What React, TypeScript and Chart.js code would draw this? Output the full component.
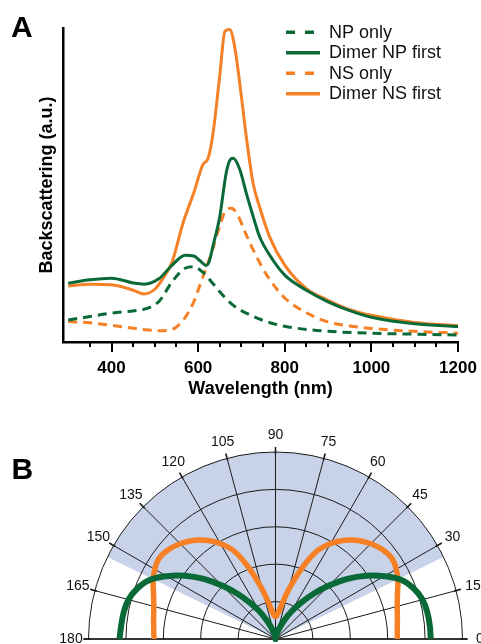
import React, { useEffect, useRef } from 'react';
import { Chart, registerables } from 'chart.js';

Chart.register(...registerables);

const FONT = '"Liberation Sans", Arial, Helvetica, sans-serif';
const GREEN = '#0a6a37';
const ORANGE = '#f58025';
const SHADE = '#c8d3e9';
const INK = '#111111';

// ---------- Panel A: backscattering spectra ----------
const seriesLabels = ['NP only', 'Dimer NP first', 'NS only', 'Dimer NS first'];

const npOnlyWl = [300, 350, 400, 450, 480, 510, 540, 570, 590, 610, 630, 650, 680, 720, 760, 800, 850, 900, 1000, 1100, 1200];
const npOnlyVal = [7.0, 8.1, 9.2, 9.9, 10.6, 13.0, 19.2, 23.5, 24.0, 22.3, 19.3, 16.0, 11.8, 8.6, 6.4, 5.0, 4.0, 3.4, 2.8, 2.5, 2.2];

const dimerNpWl = [300, 350, 400, 450, 475, 510, 540, 570, 590, 605, 618, 625, 635, 650, 665, 675, 681, 696, 712, 727, 742, 765, 800, 850, 900, 950, 1000, 1100, 1200];
const dimerNpVal = [18.7, 19.8, 20.3, 18.8, 18.4, 20.2, 24.5, 27.6, 27.4, 25.8, 24.4, 25.4, 31.0, 40.0, 54.0, 58.2, 58.5, 55.0, 47.0, 40.0, 33.5, 27.7, 21.3, 16.5, 12.8, 10.0, 7.9, 5.8, 4.9];

const nsOnlyWl = [300, 350, 400, 450, 480, 510, 530, 550, 570, 590, 610, 630, 650, 662, 677, 690, 710, 730, 760, 800, 850, 900, 950, 1000, 1100, 1200];
const nsOnlyVal = [6.5, 6.1, 5.3, 4.4, 3.9, 3.6, 3.7, 4.8, 7.8, 12.8, 20.4, 28.0, 37.0, 41.5, 42.6, 40.8, 34.5, 28.5, 21.0, 14.0, 9.3, 6.4, 5.1, 4.3, 3.4, 2.8];

const dimerNsWl = [300, 350, 400, 450, 475, 500, 520, 540, 565, 590, 611, 623, 635, 650, 662, 673, 685, 700, 712, 727, 742, 765, 800, 850, 900, 950, 1000, 1100, 1200];
const dimerNsVal = [17.8, 18.4, 18.2, 16.5, 15.3, 16.8, 20.5, 25.5, 37.8, 47.5, 56.5, 58.5, 67.0, 85.0, 99.0, 99.5, 93.5, 78.0, 64.5, 50.5, 43.0, 33.5, 24.5, 17.0, 13.3, 10.3, 8.5, 6.2, 5.2];

const xMajorTicks = [400, 600, 800, 1000, 1200];
const xTitle = 'Wavelength (nm)';
const yTitle = 'Backscattering (a.u.)';

// ---------- Panel B: angular distribution (polar) ----------
const polarAngles = [0, 5, 10, 15, 20, 25, 30, 35, 40, 45, 50, 55, 60, 65, 70, 75, 80, 85, 90,
  95, 100, 105, 110, 115, 120, 125, 130, 135, 140, 145, 150, 155, 160, 165, 170, 175, 180];
const dimerNpR = [4.14, 4.13, 4.11, 4.06, 3.93, 3.72, 3.36, 2.95, 2.50, 2.02, 1.58, 1.18, 0.85, 0.55, 0.33, 0.18, 0.08, 0.02, 0,
  0.02, 0.08, 0.18, 0.33, 0.55, 0.85, 1.18, 1.58, 2.02, 2.50, 2.95, 3.36, 3.72, 3.93, 4.06, 4.11, 4.13, 4.16];
const dimerNsR = [3.25, 3.26, 3.30, 3.36, 3.46, 3.60, 3.72, 3.78, 3.72, 3.60, 3.44, 3.22, 2.95, 2.58, 1.97, 1.38, 0.92, 0.68, 0.60,
  0.68, 0.92, 1.38, 1.97, 2.58, 2.95, 3.22, 3.44, 3.60, 3.72, 3.78, 3.72, 3.60, 3.46, 3.36, 3.30, 3.26, 3.24];
const polarTickAngles = [0, 15, 30, 45, 60, 75, 90, 105, 120, 135, 150, 165, 180];
const polarRings = [1, 2, 3, 4, 5];
const collectionRange = [26, 154];

const panelLabels = ['A', 'B'];

const rad = (d: number) => (d * Math.PI) / 180;

const panelAPlugin = {
  id: 'panelA',
  afterDraw(chart: any) {
    const { ctx, chartArea } = chart;
    const x = chart.scales.x;
    ctx.save();
    // tick marks
    ctx.strokeStyle = '#000';
    ctx.lineWidth = 2;
    x.ticks.forEach((t: any) => {
      if (t.value % 50 !== 0) return;
      const px = Math.round(x.getPixelForValue(t.value));
      const len = xMajorTicks.includes(t.value) ? 10 : 5;
      ctx.beginPath();
      ctx.moveTo(px, chartArea.bottom);
      ctx.lineTo(px, chartArea.bottom + len);
      ctx.stroke();
    });
    // legend
    const lx0 = 286, lx1 = 320, tx = 329, ly0 = 32.3, dy = 20.5;
    ctx.font = `18px ${FONT}`;
    ctx.textBaseline = 'middle';
    ctx.textAlign = 'left';
    chart.data.datasets.forEach((ds: any, i: number) => {
      const yy = ly0 + i * dy;
      ctx.strokeStyle = ds.borderColor;
      ctx.lineWidth = 3.5;
      ctx.setLineDash(ds.borderDash && ds.borderDash.length ? [9, 10] : []);
      ctx.beginPath();
      ctx.moveTo(lx0, yy);
      ctx.lineTo(lx1, yy);
      ctx.stroke();
      ctx.setLineDash([]);
      ctx.fillStyle = INK;
      ctx.fillText(ds.label, tx, yy + 0.5);
    });
    // panel label
    ctx.font = `bold 30px ${FONT}`;
    ctx.textBaseline = 'alphabetic';
    ctx.fillStyle = '#000';
    ctx.fillText(panelLabels[0], 11, 36.7);
    ctx.restore();
  },
};

const polarPlugin = {
  id: 'polarGrid',
  beforeDatasetsDraw(chart: any) {
    const { ctx } = chart;
    const x = chart.scales.x;
    const y = chart.scales.y;
    const cx = x.getPixelForValue(0);
    const cy = y.getPixelForValue(0);
    const unit = cy - y.getPixelForValue(1);
    const R = unit * polarRings[polarRings.length - 1];
    ctx.save();
    // collection cone shading
    ctx.fillStyle = SHADE;
    ctx.beginPath();
    ctx.moveTo(cx, cy);
    ctx.arc(cx, cy, R, -rad(collectionRange[1]), -rad(collectionRange[0]));
    ctx.closePath();
    ctx.fill();
    // rings
    ctx.strokeStyle = '#1a1a1a';
    ctx.lineWidth = 1;
    polarRings.forEach((r) => {
      ctx.beginPath();
      ctx.arc(cx, cy, r * unit, Math.PI, 2 * Math.PI);
      ctx.stroke();
    });
    // spokes
    polarTickAngles.forEach((a) => {
      ctx.beginPath();
      ctx.moveTo(cx, cy);
      ctx.lineTo(cx + R * Math.cos(rad(a)), cy - R * Math.sin(rad(a)));
      ctx.stroke();
    });
    // outer ticks
    ctx.lineWidth = 1.6;
    polarTickAngles.forEach((a) => {
      const c = Math.cos(rad(a)), s = Math.sin(rad(a));
      ctx.beginPath();
      ctx.moveTo(cx + (R - 2) * c, cy - (R - 2) * s);
      ctx.lineTo(cx + (R + 5) * c, cy - (R + 5) * s);
      ctx.stroke();
    });
    // baseline
    ctx.lineWidth = 1.5;
    ctx.beginPath();
    ctx.moveTo(cx - R - 5, cy);
    ctx.lineTo(cx + R + 5, cy);
    ctx.stroke();
    // angle labels
    ctx.font = `14px ${FONT}`;
    ctx.fillStyle = INK;
    ctx.textAlign = 'center';
    ctx.textBaseline = 'middle';
    polarTickAngles.forEach((a) => {
      const rr = R + 17.5;
      ctx.fillText(String(a), cx + rr * Math.cos(rad(a)), cy - rr * Math.sin(rad(a)) + 0.5);
    });
    // panel label
    ctx.font = `bold 30px ${FONT}`;
    ctx.textAlign = 'left';
    ctx.textBaseline = 'alphabetic';
    ctx.fillStyle = '#000';
    ctx.fillText(panelLabels[1], 11.5, 79.3);
    ctx.restore();
  },
};

function toXY(xs: number[], ys: number[]) {
  return xs.map((v, i) => ({ x: v, y: ys[i] }));
}

function toPolarXY(angles: number[], rs: number[]) {
  return angles.map((a, i) => ({ x: rs[i] * Math.cos(rad(a)), y: rs[i] * Math.sin(rad(a)) }));
}

export default function App() {
  const refA = useRef<HTMLCanvasElement | null>(null);
  const refB = useRef<HTMLCanvasElement | null>(null);

  useEffect(() => {
    Chart.defaults.font.family = FONT;
    const lineCommon = {
      pointRadius: 0,
      borderWidth: 3,
      fill: false,
      cubicInterpolationMode: 'monotone',
    };
    const chartA = new Chart(refA.current as HTMLCanvasElement, {
      type: 'line',
      data: {
        datasets: [
          { ...lineCommon, label: seriesLabels[0], data: toXY(npOnlyWl, npOnlyVal), borderColor: GREEN, borderDash: [9, 6] },
          { ...lineCommon, label: seriesLabels[1], data: toXY(dimerNpWl, dimerNpVal), borderColor: GREEN, borderDash: [] },
          { ...lineCommon, label: seriesLabels[2], data: toXY(nsOnlyWl, nsOnlyVal), borderColor: ORANGE, borderDash: [9, 6] },
          { ...lineCommon, label: seriesLabels[3], data: toXY(dimerNsWl, dimerNsVal), borderColor: ORANGE, borderDash: [] },
        ],
      } as any,
      options: {
        responsive: false,
        animation: false,
        devicePixelRatio: 1,
        layout: { padding: { left: 30, right: 23, top: 28, bottom: 0 } },
        plugins: { legend: { display: false }, tooltip: { enabled: false }, title: { display: false } },
        scales: {
          x: {
            type: 'linear',
            min: 288,
            max: 1200,
            afterFit: (s: any) => { s.height = 58; s.paddingRight = 0; s.paddingLeft = 0; },
            border: { display: true, color: '#000', width: 2.5 },
            grid: { display: true, drawOnChartArea: false, drawTicks: true, tickLength: 10, color: 'rgba(0,0,0,0)', tickColor: 'rgba(0,0,0,0)' },
            ticks: {
              stepSize: 50,
              autoSkip: false,
              maxRotation: 0,
              padding: 8,
              color: '#000',
              font: { family: FONT, size: 17, weight: 'bold', lineHeight: 1 },
              callback: (v: any) => (xMajorTicks.includes(Number(v)) ? String(v) : ''),
            },
            title: { display: true, text: xTitle, color: '#000', font: { family: FONT, size: 18, weight: 'bold' }, padding: { top: 0, bottom: 0 } },
          },
          y: {
            type: 'linear',
            min: 0,
            max: 100,
            afterFit: (s: any) => { s.width = 33; s.paddingTop = 0; s.paddingBottom = 0; },
            border: { display: true, color: '#000', width: 2.5 },
            grid: { display: false, drawTicks: false },
            ticks: { display: false },
            title: { display: true, text: yTitle, color: '#000', font: { family: FONT, size: 18, weight: 'bold' }, padding: { top: 6, bottom: 0 } },
          },
        },
      } as any,
      plugins: [panelAPlugin],
    });

    const polarCommon = { showLine: true, pointRadius: 0, tension: 0.4, clip: false, fill: false };
    const chartB = new Chart(refB.current as HTMLCanvasElement, {
      type: 'scatter',
      data: {
        datasets: [
          { ...polarCommon, label: seriesLabels[1], data: toPolarXY(polarAngles, dimerNpR), borderColor: GREEN, borderWidth: 6 },
          { ...polarCommon, label: seriesLabels[3], data: toPolarXY(polarAngles, dimerNsR), borderColor: ORANGE, borderWidth: 5.5 },
        ],
      } as any,
      options: {
        responsive: false,
        animation: false,
        devicePixelRatio: 1,
        layout: { padding: { left: 88, right: 18, top: 52, bottom: 5 } },
        plugins: { legend: { display: false }, tooltip: { enabled: false } },
        scales: {
          x: { type: 'linear', display: false, min: -5, max: 5 },
          y: { type: 'linear', display: false, min: 0, max: 5 },
        },
      } as any,
      plugins: [polarPlugin],
    });

    return () => {
      chartA.destroy();
      chartB.destroy();
    };
  }, []);

  return (
    <div style={{ position: 'absolute', left: 0, top: 0, width: 481, height: 644, background: '#fff', overflow: 'hidden' }}>
      <canvas ref={refA} width={481} height={400} style={{ position: 'absolute', left: 0, top: 0, width: 481, height: 400 }} />
      <canvas ref={refB} width={481} height={244} style={{ position: 'absolute', left: 0, top: 400, width: 481, height: 244 }} />
    </div>
  );
}
